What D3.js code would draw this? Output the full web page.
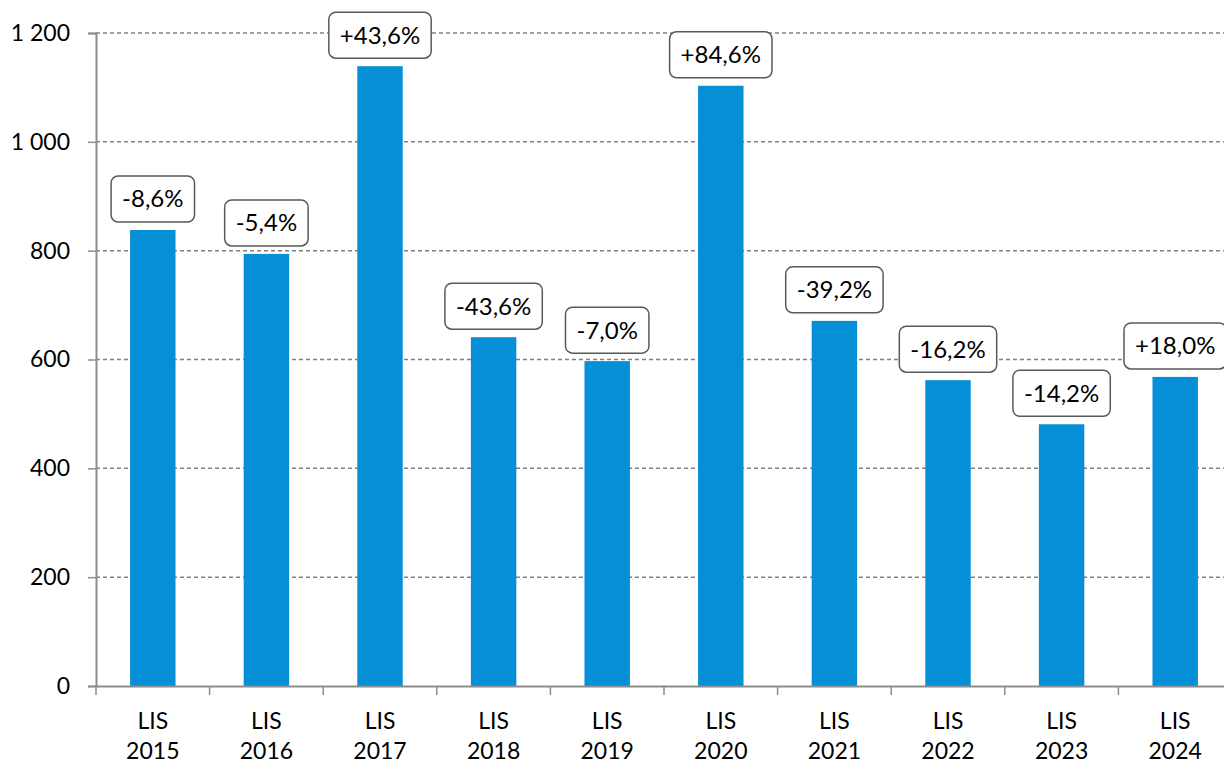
<!DOCTYPE html>
<html>
<head>
<meta charset="utf-8">
<script src="https://cdn.jsdelivr.net/npm/d3@7"></script>
<style>
  body { margin: 0; background: #fff; }
  text { font-family: Lato, "Open Sans", sans-serif; fill: #000; }
</style>
</head>
<body>
<script>
const width = 1224;
const height = 763;
const margin = {left: 96, right: -8, top: 33, bottom: 77};

const years = ["2015","2016","2017","2018","2019","2020","2021","2022","2023","2024"];
const values = [838, 794, 1139, 641, 597, 1103, 671, 562, 481, 568];
const changes = ["-8,6%","-5,4%","+43,6%","-43,6%","-7,0%","+84,6%","-39,2%","-16,2%","-14,2%","+18,0%"];
const yTicks = [0, 200, 400, 600, 800, 1000, 1200];

const svg = d3.select("body").append("svg").attr("width", width).attr("height", height);

const x = d3.scaleBand().domain(years)
  .range([margin.left, width - margin.right]).paddingInner(0.6).paddingOuter(0.3);
const band = d3.scaleBand().domain(years).range([margin.left, width - margin.right]);
const y = d3.scaleLinear().domain([0, 1200]).range([height - margin.bottom, margin.top]);

const fmt = d => d3.format(",")(d).replace(/,/g, " ");

// gridlines
svg.append("g").selectAll("line").data(yTicks.filter(d => d > 0)).enter()
  .append("line")
  .attr("x1", margin.left).attr("x2", width)
  .attr("y1", d => y(d)).attr("y2", d => y(d))
  .attr("stroke", "#808080").attr("stroke-width", 1.5)
  .attr("stroke-dasharray", "4,3");

// bars
svg.append("g").selectAll("rect").data(years).enter()
  .append("rect")
  .attr("x", d => x(d))
  .attr("y", (d, i) => y(values[i]))
  .attr("width", x.bandwidth())
  .attr("height", (d, i) => y(0) - y(values[i]))
  .attr("fill", "#058fd7");

// y axis
const yAxis = svg.append("g").attr("transform", `translate(${margin.left},0)`)
  .call(d3.axisLeft(y).tickValues(yTicks).tickFormat(fmt).tickSize(8).tickPadding(18));
yAxis.select(".domain").attr("stroke", "#8c8c8c").attr("stroke-width", 2);
yAxis.selectAll(".tick line").attr("stroke", "#8c8c8c").attr("stroke-width", 1.5);
yAxis.selectAll(".tick text").style("font-size", "23px").attr("fill", "#000");

// x axis
const xAxis = svg.append("g").attr("transform", `translate(0,${y(0)})`)
  .call(d3.axisBottom(band).tickSize(0).tickFormat(""));
xAxis.select(".domain").attr("stroke", "#8c8c8c").attr("stroke-width", 2);
xAxis.selectAll(".tick").remove();
xAxis.selectAll("line.sep").data(years).enter().append("line")
  .attr("class", "sep")
  .attr("x1", d => band(d)).attr("x2", d => band(d))
  .attr("y1", 0).attr("y2", 9)
  .attr("stroke", "#8c8c8c").attr("stroke-width", 1.5);

const cat = svg.append("g").selectAll("text").data(years).enter()
  .append("text")
  .attr("text-anchor", "middle")
  .style("font-size", "23px");
cat.append("tspan").attr("x", d => band(d) + band.bandwidth() / 2).attr("y", 729).text("LIS");
cat.append("tspan").attr("x", d => band(d) + band.bandwidth() / 2).attr("y", 759).text(d => d);

// change labels
const lab = svg.append("g").selectAll("g").data(years).enter().append("g")
  .attr("transform", (d, i) => `translate(${x(d) + x.bandwidth() / 2},${y(values[i]) - 8 - 23})`);
lab.append("text")
  .attr("text-anchor", "middle")
  .attr("dy", "0.35em")
  .style("font-size", "24px")
  .text((d, i) => changes[i]);
lab.each(function() {
  const g = d3.select(this);
  const bb = g.select("text").node().getBBox();
  g.insert("rect", "text")
    .attr("x", bb.x - 11).attr("y", -23)
    .attr("width", bb.width + 22).attr("height", 46)
    .attr("rx", 7)
    .attr("fill", "#fff").attr("stroke", "#595959").attr("stroke-width", 1.5);
});
</script>
</body>
</html>
